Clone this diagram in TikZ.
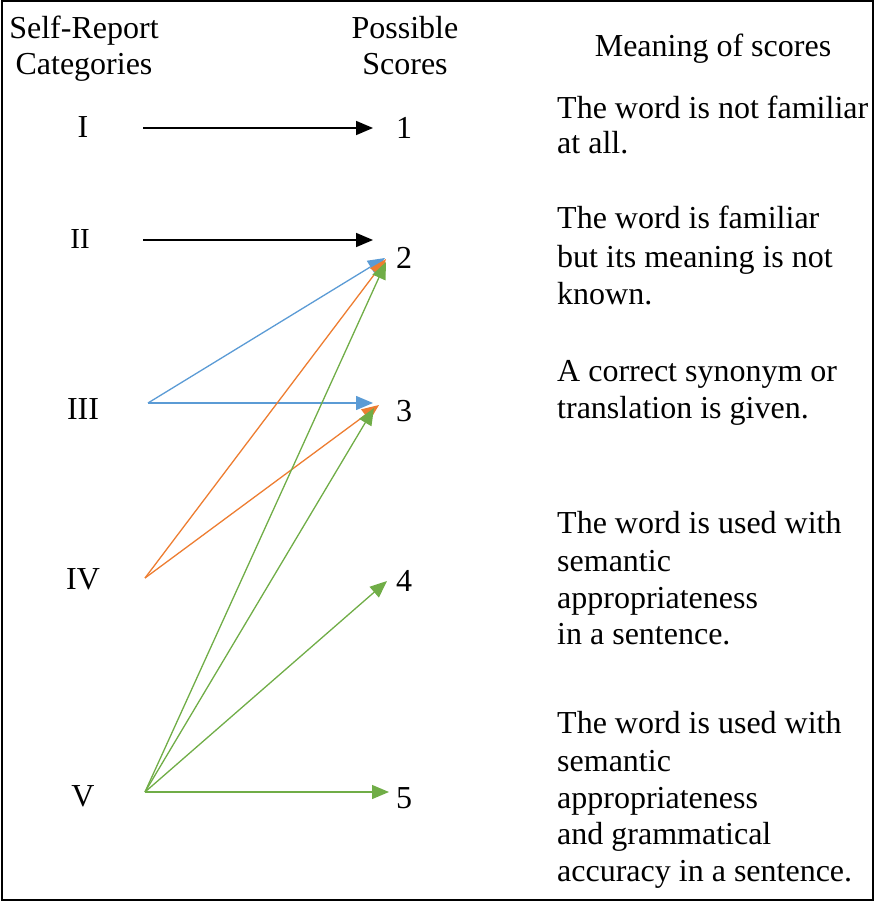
\documentclass[tikz,border=0pt]{standalone}
\usepackage{fontspec}
\setmainfont{Liberation Serif}
\usetikzlibrary{arrows.meta}
\definecolor{cblue}{HTML}{5B9BD5}
\definecolor{corange}{HTML}{ED7D31}
\definecolor{cgreen}{HTML}{70AD47}
\begin{document}
\begin{tikzpicture}[x=1pt,y=-1pt,
  txt/.style={inner sep=0pt,anchor=base west,font=\fontsize{32}{37}\selectfont},
  ctr/.style={inner sep=0pt,anchor=base,font=\fontsize{32}{37}\selectfont},
  conn/.style={line width=1.3pt,-{Triangle[length=17pt,width=14pt]}},
  blk/.style={conn,line width=1.6pt,black},
  cb/.style={conn,cblue},
  co/.style={conn,corange},
  cg/.style={conn,cgreen}]
\useasboundingbox (0,0) rectangle (874,901);
\draw[line width=2pt] (2,1.5) rectangle (872.5,899.5);
% headers
\node[ctr] (h1a) at (84,39) {Self-Report};
\node[ctr] (h1b) at (84,75) {Categories};
\node[ctr] (h2a) at (405,39) {Possible};
\node[ctr] (h2b) at (405,75) {Scores};
\node[ctr] (h3) at (713,57) {Meaning of scores};
% categories
\node[ctr] (c1) at (83,138) {I};
\node[ctr,font=\fontsize{29}{34}\selectfont] (c2) at (80,248) {II};
\node[ctr] (c3) at (83,419) {III};
\node[ctr] (c4) at (83,589) {IV};
\node[ctr] (c5) at (83,806) {V};
% scores
\node[ctr] (s1) at (404,139) {1};
\node[ctr] (s2) at (404,268) {2};
\node[ctr] (s3) at (404,421) {3};
\node[ctr] (s4) at (404,591) {4};
\node[ctr] (s5) at (404,808) {5};
% meanings
\node[txt] (m1a) at (557,119) {The word is not familiar};
\node[txt] (m1b) at (557,154) {at all.};
\node[txt] (m2a) at (557,229) {The word is familiar};
\node[txt] (m2b) at (557,267) {but its meaning is not};
\node[txt] (m2c) at (557,304) {known.};
\node[txt] (m3a) at (557,381) {A correct synonym or};
\node[txt] (m3b) at (557,418) {translation is given.};
\node[txt] (m4a) at (557,533) {The word is used with};
\node[txt] (m4b) at (557,571) {semantic};
\node[txt] (m4c) at (557,608) {appropriateness};
\node[txt] (m4d) at (557,644) {in a sentence.};
\node[txt] (m5a) at (557,733) {The word is used with};
\node[txt] (m5b) at (557,771) {semantic};
\node[txt] (m5c) at (557,808) {appropriateness};
\node[txt] (m5d) at (557,844) {and grammatical};
\node[txt] (m5e) at (557,881) {accuracy in a sentence.};
% connector endpoints
\coordinate (a1) at (143,128);
\coordinate (b1) at (373,128);
\coordinate (a2) at (143,240);
\coordinate (b2) at (373,240);
\coordinate (a3) at (148,403);
\coordinate (a4) at (145,578);
\coordinate (a5) at (145,792);
\coordinate (t2b) at (385,258);
\coordinate (t2o) at (386,259);
\coordinate (t2g) at (386,262);
\coordinate (t3b) at (373,403);
\coordinate (t3o) at (379,405);
\coordinate (t3g) at (374,408);
\coordinate (t4) at (387,581);
\coordinate (t5) at (389,792);
\draw[blk] (a1) -- (b1);
\draw[blk] (a2) -- (b2);
\draw[cb] (a3) -- (t2b);
\draw[cb] (a3) -- (t3b);
\draw[co] (a4) -- (t2o);
\draw[co] (a4) -- (t3o);
\draw[cg] (a5) -- (t2g);
\draw[cg] (a5) -- (t3g);
\draw[cg] (a5) -- (t4);
\draw[cg] (a5) -- (t5);
\end{tikzpicture}
\end{document}
